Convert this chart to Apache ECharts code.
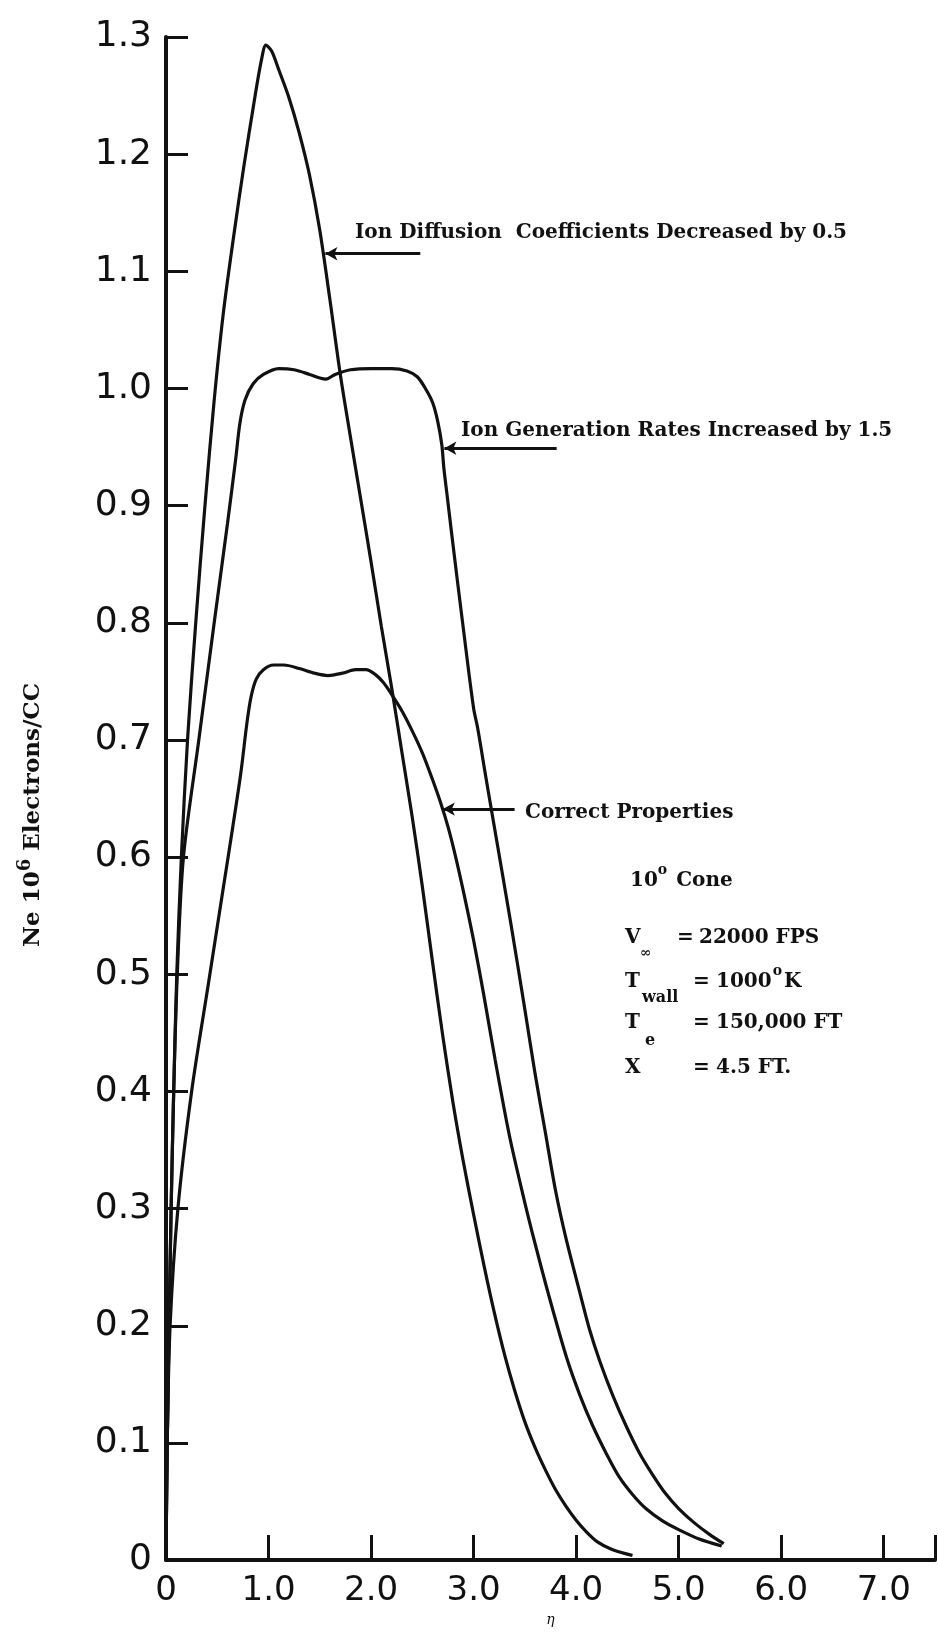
<!DOCTYPE html>
<html>
<head>
<meta charset="utf-8">
<script src="https://cdn.jsdelivr.net/npm/echarts/dist/echarts.min.js"></script>
<style>
html,body{margin:0;padding:0;background:#ffffff;}
#chart{width:938px;height:1632px;}
</style>
</head>
<body>
<div id="chart"></div>
<script>
// ---- tick labels ----
const etaTickLabels = ['0','1.0','2.0','3.0','4.0','5.0','6.0','7.0'];
const neTickLabels = ['0','0.1','0.2','0.3','0.4','0.5','0.6','0.7','0.8','0.9','1.0','1.1','1.2','1.3'];

// ---- curve: Ion Diffusion Coefficients Decreased by 0.5 ----
const diffusionEta = [0,0.012,0.03,0.05,0.075,0.105,0.15,0.21,0.29,0.38,0.47,0.56,0.66,0.76,0.86,0.93,0.975,1.03,1.1,1.2,1.3,1.4,1.5,1.6,1.7,1.8,1.9,2.0,2.1,2.2,2.3,2.4,2.5,2.6,2.7,2.8,2.9,3.0,3.1,3.2,3.3,3.4,3.5,3.6,3.7,3.8,3.9,4.0,4.1,4.2,4.35,4.55];
const diffusionNe  = [0,0.10,0.20,0.30,0.40,0.50,0.60,0.70,0.80,0.90,0.99,1.065,1.13,1.19,1.245,1.28,1.293,1.288,1.272,1.248,1.218,1.182,1.135,1.075,1.012,0.958,0.905,0.852,0.797,0.745,0.69,0.635,0.575,0.51,0.447,0.39,0.34,0.295,0.252,0.212,0.176,0.145,0.118,0.096,0.077,0.06,0.046,0.034,0.024,0.016,0.009,0.004];

// ---- curve: Ion Generation Rates Increased by 1.5 ----
const generationEta = [0,0.012,0.03,0.05,0.075,0.11,0.17,0.32,0.47,0.6,0.68,0.72,0.77,0.85,0.95,1.1,1.25,1.4,1.5,1.56,1.65,1.8,2.0,2.2,2.35,2.45,2.53,2.6,2.65,2.69,2.71,2.74,2.8,2.9,3.0,3.04,3.12,3.2,3.36,3.5,3.6,3.7,3.8,3.9,4.04,4.13,4.23,4.36,4.49,4.62,4.745,4.87,5.0,5.15,5.3,5.44];
const generationNe  = [0,0.10,0.20,0.30,0.40,0.50,0.60,0.70,0.80,0.885,0.94,0.97,0.99,1.004,1.012,1.017,1.016,1.012,1.009,1.008,1.012,1.016,1.017,1.017,1.015,1.01,1.0,0.988,0.972,0.952,0.932,0.91,0.866,0.795,0.727,0.71,0.668,0.627,0.545,0.47,0.415,0.365,0.315,0.275,0.227,0.197,0.17,0.14,0.114,0.091,0.073,0.057,0.044,0.032,0.022,0.014];

// ---- curve: Correct Properties ----
const correctEta = [0,0.012,0.04,0.116,0.25,0.41,0.57,0.65,0.73,0.79,0.83,0.88,0.95,1.05,1.15,1.3,1.45,1.58,1.72,1.85,1.95,2.04,2.12,2.2,2.3,2.4,2.5,2.6,2.68,2.75,2.82,2.9,3.0,3.1,3.21,3.35,3.5,3.6,3.73,3.91,4.04,4.165,4.3,4.42,4.55,4.68,4.85,5.0,5.2,5.42];
const correctNe  = [0,0.10,0.20,0.30,0.40,0.49,0.58,0.625,0.672,0.715,0.737,0.752,0.760,0.764,0.764,0.761,0.757,0.755,0.757,0.760,0.760,0.756,0.749,0.739,0.725,0.708,0.689,0.666,0.646,0.626,0.602,0.571,0.529,0.482,0.427,0.362,0.305,0.27,0.227,0.172,0.14,0.114,0.09,0.071,0.056,0.044,0.033,0.026,0.018,0.012];

// ---- annotation arrows: [eta at curve, eta at label end, Ne] ----
const diffusionArrow  = [1.555, 2.48, 1.115];
const generationArrow = [2.715, 3.81, 0.949];
const correctArrow    = [2.70, 3.40, 0.641];

function zip(xs, ys){ return xs.map((x,i)=>[x, ys[i]]); }

const INK = '#111111';
const serifBold = 'bold 20px "DejaVu Serif"';
const small = 'bold 14px "DejaVu Serif"';
const subFont = 'bold 16px "DejaVu Serif"';

function arrow(a){
  return {
    silent: true,
    animation: false,
    symbol: ['arrow','none'],
    symbolSize: [10, 12],
    lineStyle: {color: INK, width: 3, type: 'solid'},
    label: {show: false},
    emphasis: {disabled: true},
    data: [[{coord:[a[0], a[2]]}, {coord:[a[1], a[2]]}]]
  };
}

function lineSeries(name, xs, ys, arr){
  return {
    name: name,
    type: 'line',
    data: zip(xs, ys),
    showSymbol: false,
    smooth: 0.3,
    smoothMonotone: 'none',
    lineStyle: {color: INK, width: 3.2},
    itemStyle: {color: INK},
    emphasis: {disabled: true},
    markLine: arrow(arr)
  };
}

function txt(x, y, text, font){
  return {type:'text', x:x, y:y, silent:true,
    style:{text:text, font:font || serifBold, fill:INK, align:'left', verticalAlign:'middle'}};
}

const measureCtx = document.createElement('canvas').getContext('2d');
function textWidth(t, f){ measureCtx.font = f; return measureCtx.measureText(t).width; }
// place pieces one after another: [text, font, dy, extraGap]
function run(x, y, parts){
  const out = []; let cx = x;
  parts.forEach(p => {
    const f = p[1] || serifBold;
    out.push(txt(cx, y + (p[2] || 0), p[0], f));
    cx += textWidth(p[0], f) + (p[3] || 0);
  });
  return out;
}

const graphics = [].concat(
  [txt(355, 233, 'Ion Diffusion  Coefficients Decreased by 0.5'),
   txt(461, 431, 'Ion Generation Rates Increased by 1.5'),
   txt(525, 813, 'Correct Properties')],
  run(630, 881, [['10'], ['o', small, -11, 2], [' Cone']]),
  [txt(625, 938, 'V'), txt(640, 953, '∞', small), txt(677, 938, '='), txt(699, 938, '22000 FPS')],
  [txt(625, 982, 'T'), txt(642, 998, 'wall', subFont), txt(693, 982, '=')],
  run(716, 982, [['1000', null, 0, 1], ['o', small, -11, 2], ['K']]),
  [txt(625, 1023, 'T'), txt(645, 1041, 'e', subFont), txt(693, 1023, '='), txt(716, 1023, '150,000 FT')],
  [txt(625, 1068, 'X'), txt(693, 1068, '='), txt(716, 1068, '4.5 FT.')],
  [{
    type: 'text', x: 33, y: 815, rotation: Math.PI/2, silent: true,
    style: {
      text: 'Ne 10{s|6} Electrons/CC',
      font: 'bold 23px "DejaVu Serif"', fill: INK, align: 'center', verticalAlign: 'middle',
      rich: {s: {font: 'bold 18px "DejaVu Serif"', fill: INK, padding: [0,0,15,0]}}
    }
  }]
);

const chart = echarts.init(document.getElementById('chart'), null, {renderer:'canvas'});
chart.setOption({
  animation: false,
  backgroundColor: '#ffffff',
  grid: {left: 166, right: -3.5, top: 37, bottom: 65},
  xAxis: {
    type: 'value', min: 0, max: 7.5, interval: 1,
    name: 'η', nameLocation: 'middle', nameGap: 50,
    nameTextStyle: {fontFamily: 'DejaVu Serif', fontStyle: 'italic', fontSize: 14, color: INK},
    axisLine: {lineStyle: {color: INK, width: 4}},
    axisTick: {inside: true, length: 25, lineStyle: {color: INK, width: 3}},
    splitLine: {show: false},
    axisLabel: {
      margin: 14, fontSize: 34, fontFamily: 'DejaVu Sans', color: INK,
      formatter: function(v){ const r = Math.round(v); return Math.abs(v-r) < 1e-6 && etaTickLabels[r] !== undefined ? etaTickLabels[r] : ''; }
    }
  },
  yAxis: {
    type: 'value', min: 0, max: 1.3, interval: 0.1,
    axisLine: {show: true, lineStyle: {color: INK, width: 4}},
    axisTick: {show: true, inside: true, length: 22, lineStyle: {color: INK, width: 3}},
    splitLine: {show: false},
    axisLabel: {
      margin: 14, fontSize: 36, fontFamily: 'DejaVu Sans', color: INK,
      formatter: function(v){ const r = Math.round(v*10); return neTickLabels[r] !== undefined ? neTickLabels[r] : ''; }
    }
  },
  series: [
    lineSeries('Ion Diffusion  Coefficients Decreased by 0.5', diffusionEta, diffusionNe, diffusionArrow),
    lineSeries('Ion Generation Rates Increased by 1.5', generationEta, generationNe, generationArrow),
    lineSeries('Correct Properties', correctEta, correctNe, correctArrow)
  ],
  graphic: graphics
});
</script>
</body>
</html>
